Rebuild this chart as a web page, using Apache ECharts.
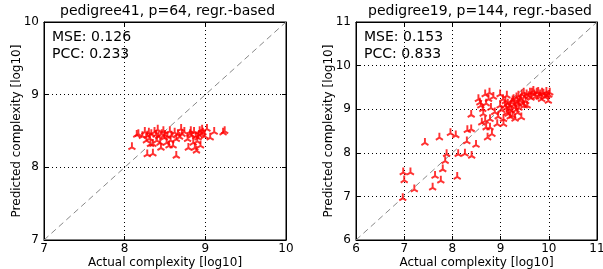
<!DOCTYPE html>
<html>
<head>
<meta charset="utf-8">
<script src="https://cdn.jsdelivr.net/npm/echarts@6/dist/echarts.min.js"></script>
<style>
  html, body { margin: 0; padding: 0; background: #fff; }
  #chart { width: 603px; height: 269px; }
</style>
</head>
<body>
<div id="chart"></div>
<script>
// pedigree41 (left) : actual vs predicted complexity
const leftPoints = [
  [8.09,8.29],[8.15,8.46],[8.17,8.47],[8.28,8.45],[8.30,8.49],[8.33,8.47],[8.32,8.33],[8.35,8.33],
  [8.39,8.46],[8.28,8.19],[8.35,8.20],[8.44,8.35],[8.46,8.47],[8.48,8.51],[8.49,8.42],[8.52,8.35],
  [8.56,8.51],[8.55,8.31],[8.60,8.31],[8.64,8.40],[8.64,8.17],[8.66,8.47],[8.70,8.54],[8.71,8.47],
  [8.79,8.28],[8.82,8.51],[8.83,8.45],[8.85,8.35],[8.87,8.28],[8.89,8.24],[8.91,8.42],[8.93,8.51],
  [8.95,8.47],[8.94,8.31],[8.97,8.49],[9.02,8.54],[9.06,8.42],[9.11,8.50],[9.22,8.49],[9.24,8.51],
  [8.22,8.44],[8.25,8.50],[8.31,8.41],[8.37,8.50],[8.40,8.38],[8.42,8.44],[8.45,8.28],[8.50,8.46],
  [8.53,8.44],[8.58,8.45],[8.62,8.49],[8.68,8.43],[8.74,8.50],[8.78,8.40],[8.81,8.47],[8.86,8.50],
  [8.88,8.44],[8.90,8.37],[8.92,8.46],[8.96,8.53],[8.99,8.44],[8.27,8.38],[8.41,8.53],[8.57,8.38]
];

// pedigree19 (right)
const rightPoints = [
  [6.98,7.57],[7.13,7.57],[7.00,7.39],[6.97,6.98],[7.21,7.18],[7.43,8.25],[7.59,7.22],[7.64,7.49],
  [7.76,7.38],[7.80,7.64],[7.85,7.83],[7.88,7.99],[8.10,7.47],[8.12,7.99],[8.26,8.00],[8.40,7.95],
  [8.30,8.28],[8.49,8.20],[7.73,8.37],[7.96,8.47],[8.07,8.42],[8.31,8.54],[8.39,8.56],[8.39,8.89],
  [8.54,9.25],[8.57,9.17],[8.59,9.10],[8.63,9.02],[8.68,9.36],[8.77,9.40],[8.75,9.25],[8.64,8.91],
  [8.68,8.75],[8.61,8.71],[8.78,8.79],[8.70,8.60],[8.78,8.60],[8.82,8.45],[8.73,8.37],[8.93,8.68],
  [8.99,9.36],[9.13,9.33],[8.99,9.10],[9.06,8.79],[9.06,8.68],[9.09,9.10],[9.13,8.94],[9.20,9.10],
  [9.23,9.17],[9.27,9.25],[9.30,9.06],[9.33,9.29],[9.37,9.14],[9.40,9.21],[9.16,8.91],[9.25,8.87],
  [9.35,8.94],[9.43,8.83],[9.49,9.10],[9.54,9.36],[9.61,9.40],[9.68,9.44],[9.75,9.40],[9.82,9.36],
  [9.89,9.38],[9.96,9.33],[10.02,9.40],[9.99,9.21],[9.85,9.25],[9.37,9.33],[9.44,9.36],
  [9.02,9.00],[9.10,9.20],[9.18,9.02],[9.22,8.98],[9.28,9.12],[9.32,9.00],[9.38,9.05],[9.42,9.25],
  [9.46,9.15],[9.50,9.30],[9.52,9.20],[9.58,9.32],[9.63,9.28],[9.70,9.36],[9.78,9.42],[9.86,9.40],
  [9.92,9.30],[9.95,9.42],[9.72,9.30],[9.15,9.15],[9.25,9.22],[9.35,9.18],[8.85,9.30],[8.88,8.95],
  [8.95,8.85],[9.05,9.25],[9.12,9.05],[9.20,8.85],[9.30,8.80],[8.70,9.15],[8.80,9.05],[9.55,9.10],
  [9.65,9.40],[9.80,9.30],[10.00,9.35],[9.48,9.40]
];

const leftRange = [7, 10];
const rightRange = [6, 11];
const titles = ["pedigree41, p=64, regr.-based", "pedigree19, p=144, regr.-based"];
const scores = [["MSE: 0.126", "PCC: 0.233"], ["MSE: 0.153", "PCC: 0.833"]];

const FONT = "DejaVu Sans";
// matplotlib tri_up marker, drawn with thick arms
const triUp = "path://M3.8,0 L6.2,0 L6.2,5.2 L10,7.4 L8.8,9.5 L5,7.3 L1.2,9.5 L0,7.4 L3.8,5.2 Z";

function mainAxis(range, grid, isX) {
  return {
    type: "value", gridIndex: grid, min: range[0], max: range[1], interval: 1,
    position: isX ? "bottom" : "left",
    name: isX ? "Actual complexity [log10]" : "Predicted complexity [log10]",
    nameLocation: "middle", nameGap: isX ? 17 : 21, nameMoveOverlap: false,
    nameTextStyle: { fontFamily: FONT, fontSize: 12, color: "#000" },
    axisLine: { show: true, onZero: false, lineStyle: { color: "#000", width: 1 } },
    axisTick: { show: true, inside: true, length: 4, lineStyle: { color: "#000" } },
    axisLabel: { fontFamily: FONT, fontSize: 12, color: "#000", margin: isX ? 3 : 5 },
    splitLine: { show: true, lineStyle: { color: "#000", type: [1, 3], width: 1 } }
  };
}
function mirrorAxis(range, grid, isX) {
  return {
    type: "value", gridIndex: grid, min: range[0], max: range[1], interval: 1,
    position: isX ? "top" : "right",
    axisLine: { show: true, onZero: false, lineStyle: { color: "#000", width: 1 } },
    axisTick: { show: true, inside: true, length: 4, lineStyle: { color: "#000" } },
    axisLabel: { show: false },
    splitLine: { show: false }
  };
}
function scatter(points, grid) {
  return {
    type: "scatter", xAxisIndex: grid, yAxisIndex: grid, data: points,
    symbol: triUp, symbolSize: 8,
    itemStyle: { color: "#ff0000" }, z: 3
  };
}
function diagonal(range, grid) {
  return {
    type: "line", xAxisIndex: grid, yAxisIndex: grid,
    data: [[range[0], range[0]], [range[1], range[1]]],
    symbol: "none", silent: true, z: 2,
    lineStyle: { color: "#888", width: 1, type: [6, 4] }
  };
}

const chart = echarts.init(document.getElementById("chart"), null, { renderer: "canvas" });
chart.setOption({
  backgroundColor: "#fff",
  animation: false,
  title: [
    { text: titles[0], left: 60, top: 4, padding: 0,
      textStyle: { fontFamily: FONT, fontSize: 14, fontWeight: "normal", color: "#000" } },
    { text: titles[1], left: 368, top: 4, padding: 0,
      textStyle: { fontFamily: FONT, fontSize: 14, fontWeight: "normal", color: "#000" } },
    { text: scores[0].join("\n"), left: 52, top: 29, padding: 0,
      textStyle: { fontFamily: FONT, fontSize: 14, fontWeight: "normal", color: "#000", lineHeight: 17 } },
    { text: scores[1].join("\n"), left: 364, top: 29, padding: 0,
      textStyle: { fontFamily: FONT, fontSize: 14, fontWeight: "normal", color: "#000", lineHeight: 17 } }
  ],
  grid: [
    { left: 44, top: 22, width: 242, height: 218, outerBoundsMode: "none",
      show: true, borderColor: "#000", borderWidth: 1 },
    { left: 356, top: 22, width: 241, height: 218, outerBoundsMode: "none",
      show: true, borderColor: "#000", borderWidth: 1 }
  ],
  xAxis: [
    mainAxis(leftRange, 0, true), mainAxis(rightRange, 1, true),
    mirrorAxis(leftRange, 0, true), mirrorAxis(rightRange, 1, true)
  ],
  yAxis: [
    mainAxis(leftRange, 0, false), mainAxis(rightRange, 1, false),
    mirrorAxis(leftRange, 0, false), mirrorAxis(rightRange, 1, false)
  ],
  series: [
    diagonal(leftRange, 0), diagonal(rightRange, 1),
    scatter(leftPoints, 0), scatter(rightPoints, 1)
  ]
});
</script>
</body>
</html>
